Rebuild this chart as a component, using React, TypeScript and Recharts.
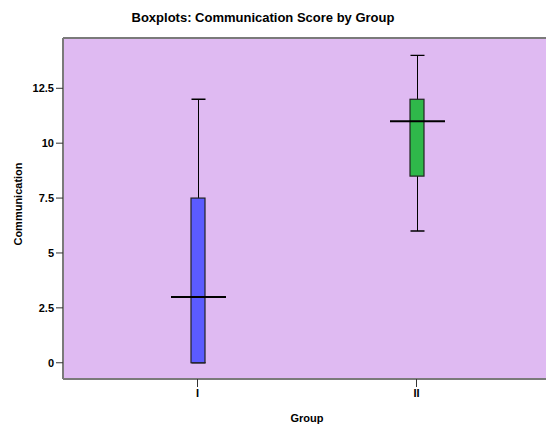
import React from "react";
import { ComposedChart, Bar, XAxis, YAxis, CartesianGrid, ReferenceLine } from "recharts";

const groups = ["I", "II"];
const whiskerLow = [0, 6];
const q1 = [0, 8.5];
const median = [3, 11];
const q3 = [7.5, 12];
const whiskerHigh = [12, 14];
const yTicks = [0, 2.5, 5, 7.5, 10, 12.5];
const boxColors = ["#5b5bff", "#2fb84a"];

const Y_MIN = -0.74;
const Y_MAX = 14.79;

const data = groups.map((g, i) => ({
  group: g,
  low: whiskerLow[i],
  q1: q1[i],
  median: median[i],
  q3: q3[i],
  high: whiskerHigh[i],
  color: boxColors[i],
}));

const font = "Arial, 'Liberation Sans', sans-serif";

// draws whisker, box and median from the pixel span the library gives for [low, high]
function BoxShape(props: any) {
  const { x, y, width, height, payload } = props;
  const top = Math.min(y, y + height);
  const bottom = Math.max(y, y + height);
  const span = payload.high - payload.low || 1;
  const toY = (v: number) => bottom - ((bottom - top) * (v - payload.low)) / span;
  const cx = Math.round(x + width / 2) + 0.5;
  const capHalf = width / 2;
  const medHalf = 27.5;
  const yQ1 = toY(payload.q1);
  const yQ3 = toY(payload.q3);
  const yMed = toY(payload.median);
  return (
    <g>
      <line x1={cx} x2={cx} y1={top} y2={bottom} stroke="#000" strokeWidth={1} />
      <line x1={cx - capHalf} x2={cx + capHalf} y1={top} y2={top} stroke="#000" strokeWidth={1.4} />
      <line x1={cx - capHalf} x2={cx + capHalf} y1={bottom} y2={bottom} stroke="#000" strokeWidth={1.4} />
      <rect x={x} y={yQ3} width={width} height={yQ1 - yQ3} fill={payload.color} stroke="#222" strokeWidth={1.2} />
      <line x1={cx - medHalf} x2={cx + medHalf} y1={yMed} y2={yMed} stroke="#000" strokeWidth={2} />
    </g>
  );
}

export default function App() {
  return (
    <div style={{ position: "absolute", left: 0, top: 0, width: 546, height: 426, background: "#fff" }}>
      <ComposedChart
        width={546}
        height={426}
        data={data}
        margin={{ top: 38, right: 0, bottom: 17, left: 8 }}
      >
        <CartesianGrid fill="#dfbaf2" horizontal={false} vertical={false} />
        <XAxis
          dataKey="group"
          height={30}
          padding={{ left: 25, right: 20 }}
          axisLine={{ stroke: "#7a7a7a", strokeWidth: 2 }}
          tickLine={{ stroke: "#333" }}
          tickSize={8}
          tickMargin={2}
          tick={{ fontSize: 11, fontWeight: "bold", fill: "#000", fontFamily: font }}
        />
        <YAxis
          type="number"
          domain={[Y_MIN, Y_MAX]}
          allowDataOverflow
          ticks={yTicks}
          width={55}
          axisLine={{ stroke: "#7a7a7a", strokeWidth: 2 }}
          tickLine={{ stroke: "#333" }}
          tickSize={7}
          tickMargin={2}
          tick={{ fontSize: 11, fontWeight: "bold", fill: "#000", fontFamily: font }}
        />
        <ReferenceLine y={Y_MAX} stroke="#7a7a7a" strokeWidth={2} />
        <Bar
          dataKey={(d: any) => [d.low, d.high]}
          barSize={14}
          shape={BoxShape}
          isAnimationActive={false}
        />
      </ComposedChart>
      <svg
        width={546}
        height={426}
        style={{ position: "absolute", left: 0, top: 0, pointerEvents: "none" }}
      >
        <text x={263} y={22} textAnchor="middle" fontSize={13} fontWeight="bold" fontFamily={font} fill="#000">
          Boxplots: Communication Score by Group
        </text>
        <text
          x={22}
          y={204}
          textAnchor="middle"
          fontSize={11}
          fontWeight="bold"
          fontFamily={font}
          fill="#000"
          transform="rotate(-90 22 204)"
        >
          Communication
        </text>
        <text x={307} y={422} textAnchor="middle" fontSize={11} fontWeight="bold" fontFamily={font} fill="#000">
          Group
        </text>
      </svg>
    </div>
  );
}
